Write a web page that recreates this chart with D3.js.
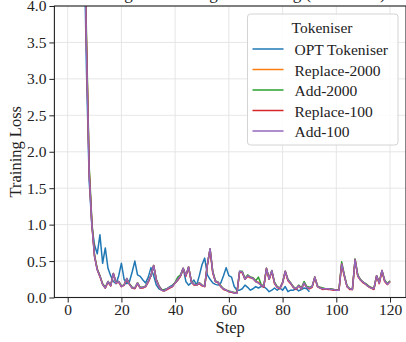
<!DOCTYPE html>
<html>
<head>
<meta charset="utf-8">
<script src="https://cdn.jsdelivr.net/npm/d3@7"></script>
<style>
  html, body { margin: 0; padding: 0; background: #fff; }
  svg { display: block; }
  text { font-family: "Liberation Serif", "DejaVu Serif", serif; fill: #222; }
</style>
</head>
<body>
<svg id="chart" width="406" height="342"></svg>
<script>
// ---------------- data ----------------
const seriesNames = ["OPT Tokeniser", "Replace-2000", "Add-2000", "Replace-100", "Add-100"];
const seriesColors = ["#1f77b4", "#ff7f0e", "#2ca02c", "#d62728", "#9467bd"];
const xTicks = [0, 20, 40, 60, 80, 100, 120];
const yTicks = [0.0, 0.5, 1.0, 1.5, 2.0, 2.5, 3.0, 3.5, 4.0];

const optTokeniser = [10.4, 9.6, 8.4, 7.2, 6.1, 5.1, 3.1, 1.6, 0.98, 0.72,
  0.6, 0.86, 0.47, 0.68, 0.4, 0.3, 0.22, 0.19, 0.3, 0.47,
  0.25, 0.19, 0.22, 0.35, 0.5, 0.31, 0.29, 0.24, 0.2, 0.28,
  0.41, 0.3, 0.17, 0.12, 0.1, 0.11, 0.12, 0.15, 0.17, 0.2,
  0.24, 0.3, 0.4, 0.22, 0.17, 0.2, 0.24, 0.17, 0.3, 0.45,
  0.54, 0.31, 0.25, 0.2, 0.18, 0.17, 0.2, 0.3, 0.41, 0.3,
  0.28, 0.15, 0.1, 0.1, 0.12, 0.17, 0.14, 0.1, 0.12, 0.15,
  0.13, 0.15, 0.15, 0.12, 0.08, 0.1, 0.13, 0.1, 0.13, 0.1,
  0.15, 0.08, 0.1, 0.1, 0.12, 0.09, 0.11, 0.13, 0.12, 0.08];

const replace2000 = [10.6, 9.9, 8.7, 7.5, 6.4, 5.4, 3.5, 1.75, 1.02, 0.57,
  0.39, 0.29, 0.18, 0.13, 0.22, 0.16, 0.32, 0.2, 0.22, 0.15,
  0.17, 0.26, 0.18, 0.13, 0.13, 0.2, 0.13, 0.14, 0.15, 0.22,
  0.3, 0.43, 0.24, 0.15, 0.1, 0.09, 0.12, 0.14, 0.15, 0.2,
  0.25, 0.3, 0.39, 0.3, 0.41, 0.22, 0.18, 0.17, 0.2, 0.17,
  0.15, 0.44, 0.66, 0.35, 0.22, 0.21, 0.15, 0.12, 0.1, 0.08,
  0.08, 0.06, 0.06, 0.35, 0.35, 0.25, 0.3, 0.28, 0.26, 0.22,
  0.21, 0.17, 0.15, 0.39, 0.25, 0.36, 0.2, 0.14, 0.13, 0.2,
  0.35, 0.24, 0.2, 0.14, 0.12, 0.16, 0.12, 0.2, 0.15, 0.13,
  0.15, 0.27, 0.15, 0.13, 0.12, 0.12, 0.12, 0.11, 0.11, 0.1,
  0.1, 0.45, 0.3, 0.15, 0.12, 0.11, 0.51, 0.3, 0.24, 0.21,
  0.18, 0.15, 0.13, 0.12, 0.29, 0.2, 0.36, 0.23, 0.18, 0.22];

const add2000 = [10.6, 9.9, 8.7, 7.5, 6.4, 5.4, 3.6, 1.8, 1.05, 0.58,
  0.39, 0.3, 0.19, 0.14, 0.22, 0.17, 0.33, 0.21, 0.22, 0.16,
  0.17, 0.26, 0.19, 0.14, 0.13, 0.2, 0.14, 0.14, 0.16, 0.22,
  0.3, 0.44, 0.25, 0.16, 0.11, 0.1, 0.12, 0.14, 0.16, 0.21,
  0.28, 0.31, 0.4, 0.3, 0.42, 0.23, 0.18, 0.18, 0.2, 0.17,
  0.16, 0.45, 0.67, 0.36, 0.23, 0.21, 0.16, 0.12, 0.1, 0.09,
  0.08, 0.07, 0.07, 0.36, 0.36, 0.26, 0.31, 0.28, 0.27, 0.23,
  0.28, 0.18, 0.16, 0.4, 0.26, 0.37, 0.21, 0.15, 0.13, 0.21,
  0.36, 0.25, 0.2, 0.15, 0.12, 0.17, 0.13, 0.22, 0.15, 0.14,
  0.15, 0.28, 0.16, 0.14, 0.13, 0.12, 0.12, 0.12, 0.11, 0.1,
  0.11, 0.49, 0.31, 0.16, 0.12, 0.12, 0.53, 0.31, 0.25, 0.21,
  0.19, 0.16, 0.14, 0.12, 0.3, 0.21, 0.37, 0.24, 0.19, 0.23];

const replace100 = [10.6, 9.9, 8.7, 7.5, 6.4, 5.4, 3.45, 1.72, 1.0, 0.56,
  0.38, 0.29, 0.18, 0.13, 0.21, 0.16, 0.33, 0.2, 0.21, 0.15,
  0.17, 0.25, 0.18, 0.13, 0.12, 0.19, 0.13, 0.13, 0.15, 0.21,
  0.3, 0.44, 0.24, 0.15, 0.1, 0.09, 0.11, 0.13, 0.15, 0.2,
  0.24, 0.29, 0.4, 0.29, 0.42, 0.22, 0.17, 0.17, 0.19, 0.16,
  0.15, 0.45, 0.66, 0.34, 0.22, 0.2, 0.15, 0.11, 0.1, 0.08,
  0.07, 0.06, 0.06, 0.35, 0.34, 0.25, 0.29, 0.27, 0.26, 0.22,
  0.2, 0.17, 0.14, 0.4, 0.25, 0.36, 0.19, 0.14, 0.12, 0.2,
  0.36, 0.23, 0.19, 0.14, 0.11, 0.16, 0.12, 0.19, 0.14, 0.12,
  0.14, 0.28, 0.15, 0.13, 0.11, 0.12, 0.11, 0.11, 0.1, 0.1,
  0.1, 0.46, 0.29, 0.15, 0.11, 0.11, 0.52, 0.29, 0.24, 0.2,
  0.18, 0.15, 0.13, 0.11, 0.3, 0.19, 0.37, 0.22, 0.18, 0.22];

const add100 = [10.6, 9.9, 8.7, 7.5, 6.4, 5.4, 3.4, 1.7, 1.0, 0.56,
  0.38, 0.29, 0.18, 0.13, 0.22, 0.16, 0.33, 0.2, 0.22, 0.15,
  0.17, 0.26, 0.18, 0.13, 0.13, 0.2, 0.13, 0.14, 0.15, 0.22,
  0.3, 0.44, 0.24, 0.15, 0.1, 0.09, 0.12, 0.14, 0.15, 0.2,
  0.25, 0.3, 0.4, 0.3, 0.42, 0.22, 0.18, 0.17, 0.2, 0.17,
  0.15, 0.45, 0.67, 0.35, 0.22, 0.21, 0.15, 0.12, 0.1, 0.08,
  0.08, 0.06, 0.06, 0.36, 0.35, 0.25, 0.3, 0.28, 0.26, 0.22,
  0.2, 0.17, 0.15, 0.4, 0.25, 0.37, 0.2, 0.14, 0.13, 0.2,
  0.36, 0.24, 0.2, 0.14, 0.12, 0.16, 0.12, 0.2, 0.14, 0.13,
  0.15, 0.28, 0.15, 0.13, 0.12, 0.12, 0.12, 0.11, 0.11, 0.1,
  0.1, 0.46, 0.3, 0.15, 0.12, 0.11, 0.52, 0.3, 0.24, 0.21,
  0.18, 0.15, 0.13, 0.12, 0.3, 0.2, 0.37, 0.23, 0.18, 0.22];

const allSeries = [optTokeniser, replace2000, add2000, replace100, add100];

// ---------------- layout ----------------
const svg = d3.select("#chart");
const plot = { left: 54.4, right: 406, top: 6, bottom: 297.5 };

const x = d3.scaleLinear().domain([-4.95, 125.95]).range([plot.left, plot.right]);
const y = d3.scaleLinear().domain([0, 4]).range([plot.bottom, plot.top]);

// title (mostly clipped above the picture, as in the reference)
svg.append("text")
  .attr("x", (plot.left + plot.right) / 2)
  .attr("y", -1.5)
  .attr("text-anchor", "middle")
  .style("font-size", "17px")
  .text("Training Loss during Fine-tuning (OPT-1.3B)");

// grid
const grid = svg.append("g");
grid.selectAll(".gx").data(xTicks).join("line")
  .attr("x1", d => x(d)).attr("x2", d => x(d))
  .attr("y1", plot.top).attr("y2", plot.bottom)
  .attr("stroke", "#e3e3e3").attr("stroke-width", 0.9);
grid.selectAll(".gy").data(yTicks).join("line")
  .attr("x1", plot.left).attr("x2", plot.right)
  .attr("y1", d => y(d)).attr("y2", d => y(d))
  .attr("stroke", "#e3e3e3").attr("stroke-width", 0.9);

// clip
svg.append("clipPath").attr("id", "clip")
  .append("rect")
  .attr("x", plot.left).attr("y", plot.top)
  .attr("width", plot.right - plot.left).attr("height", plot.bottom - plot.top);

const line = d3.line().x((d, i) => x(i + 1)).y(d => y(d));
const lines = svg.append("g").attr("clip-path", "url(#clip)");
allSeries.forEach((s, i) => {
  lines.append("path")
    .datum(s)
    .attr("fill", "none")
    .attr("stroke", seriesColors[i])
    .attr("stroke-width", 1.5)
    .attr("stroke-linejoin", "round")
    .attr("d", line);
});

// axes
const xAxis = svg.append("g")
  .attr("transform", `translate(0,${plot.bottom})`)
  .call(d3.axisBottom(x).tickValues(xTicks).tickFormat(d3.format("d")).tickSize(5).tickPadding(1.5));
const yAxis = svg.append("g")
  .attr("transform", `translate(${plot.left},0)`)
  .call(d3.axisLeft(y).tickValues(yTicks).tickFormat(d3.format(".1f")).tickSize(5).tickPadding(3));
[xAxis, yAxis].forEach(a => {
  a.select(".domain").remove();
  a.selectAll(".tick line").attr("stroke", "#222").attr("stroke-width", 1);
  a.selectAll(".tick text")
    .style("font-family", '"Liberation Serif", "DejaVu Serif", serif')
    .style("font-size", "15.5px").attr("fill", "#222");
});

// frame
svg.append("rect")
  .attr("x", plot.left).attr("y", plot.top)
  .attr("width", plot.right - plot.left).attr("height", plot.bottom - plot.top)
  .attr("fill", "none").attr("stroke", "#222").attr("stroke-width", 1.1);

// axis labels
svg.append("text")
  .attr("x", (plot.left + plot.right) / 2).attr("y", 333)
  .attr("text-anchor", "middle").style("font-size", "16.5px")
  .text("Step");
svg.append("text")
  .attr("transform", `translate(21,${(plot.top + plot.bottom) / 2}) rotate(-90)`)
  .attr("text-anchor", "middle").style("font-size", "16.5px")
  .text("Training Loss");

// legend
const lg = svg.append("g");
lg.append("rect")
  .attr("x", 247.5).attr("y", 14).attr("width", 150.5).attr("height", 131)
  .attr("rx", 3).attr("fill", "#fff").attr("fill-opacity", 0.85)
  .attr("stroke", "#d4d4d4").attr("stroke-width", 1);
lg.append("text")
  .attr("x", 322).attr("y", 33)
  .attr("text-anchor", "middle").style("font-size", "15.5px")
  .text("Tokeniser");
seriesNames.forEach((name, i) => {
  const yy = 49 + i * 20.5;
  lg.append("line")
    .attr("x1", 252.5).attr("x2", 283.5)
    .attr("y1", yy).attr("y2", yy)
    .attr("stroke", seriesColors[i]).attr("stroke-width", 1.5);
  lg.append("text")
    .attr("x", 294.5).attr("y", yy + 6)
    .style("font-size", "15.5px")
    .text(name);
});
</script>
</body>
</html>
